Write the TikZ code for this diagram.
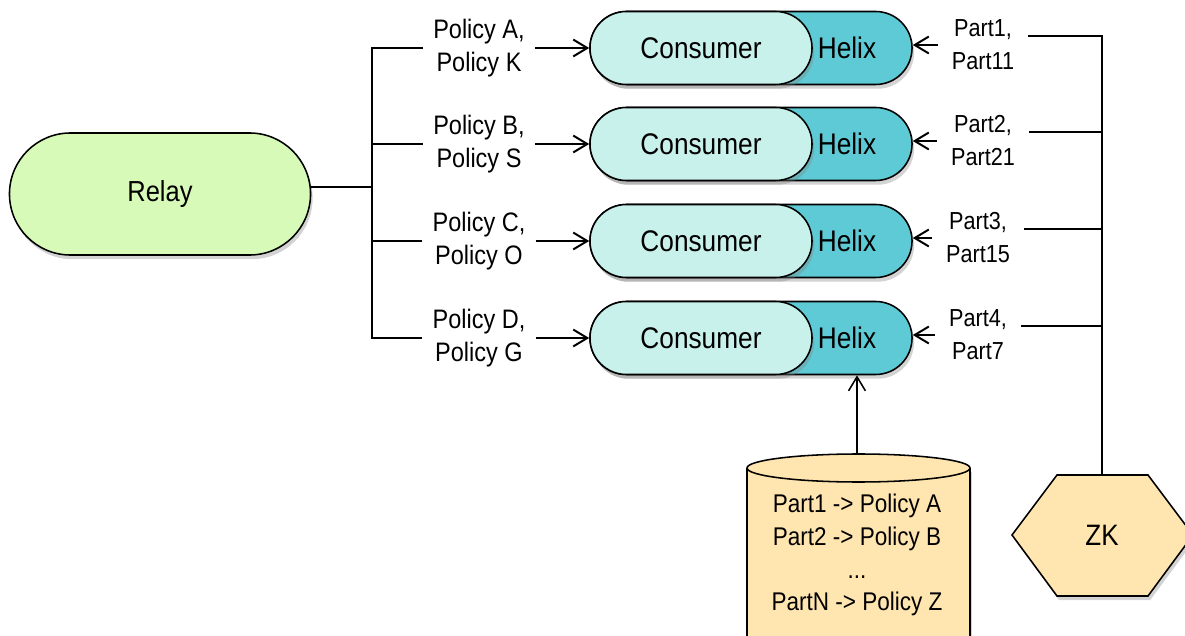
\documentclass[tikz,border=0pt]{standalone}
\usepackage{fontspec}
\setmainfont[FakeStretch=0.88]{Liberation Sans}
\usetikzlibrary{shapes.misc,shadows,arrows.meta,calc}
\definecolor{relayc}{HTML}{D8FAB8}
\definecolor{consc}{HTML}{C9F1EC}
\definecolor{helixc}{HTML}{5ECAD6}
\definecolor{dbc}{HTML}{FFE5B0}
\begin{document}
\begin{tikzpicture}[x=0.025cm,y=-0.025cm,
 shad/.style={drop shadow={shadow xshift=1.5pt,shadow yshift=-3pt,opacity=0.35}},
 pill/.style={rounded rectangle, draw, line width=1.1pt, minimum height=1.825cm, inner sep=0pt, shad},
 lbl/.style={align=center, font=\fontsize{19}{24}\selectfont, inner xsep=7pt, inner ysep=0pt},
 plbl/.style={align=center, font=\fontsize{17.5}{23.5}\selectfont, inner xsep=10pt, inner ysep=0pt},
 big/.style={font=\fontsize{21.2}{24}\selectfont},
 wire/.style={line width=1.4pt},
 arr/.style={line width=1.4pt, -{Straight Barb[length=10pt,width=12pt]}},
]
\clip (0,0) rectangle (1185,636);

% Relay
\node[pill, fill=relayc, minimum width=7.525cm, minimum height=3.05cm, font=\fontsize{20.6}{24}\selectfont] (relay) at (160,194) {Relay};
\coordinate (bus) at (372,187);

% ZK hexagon
\filldraw[fill=dbc, line width=1.1pt, shad] (1012,535) -- (1057,475) -- (1148,475) -- (1193,535) -- (1148,596) -- (1057,596) -- cycle;
\node[font=\fontsize{21}{24}\selectfont] (zk) at (1102,535) {ZK};
\coordinate (zktop) at (1102,475);

% Database cylinder
\path[fill=dbc, draw, line width=1.1pt, shad] (747,468) -- (747,660) -- (970,660) -- (970,468);
\filldraw[fill=dbc, line width=1.1pt] (858.5,468) ellipse [x radius=111.5, y radius=14];
\coordinate (dbtop) at (857,454);
\node[font=\fontsize{18.2}{23.3}\selectfont, align=center] (db) at (857,555) {Part1 -> Policy A\\Part2 -> Policy B\\...\\PartN -> Policy Z};

% Rows
\foreach \i/\y/\pa/\pb/\qa/\qb/\qx in {
  1/48/{Policy A,}/{Policy K}/{Part1,}/{Part11}/983,
  2/144/{Policy B,}/{Policy S}/{Part2,}/{Part21}/983,
  3/241/{Policy C,}/{Policy O}/{Part3,}/{Part15}/978,
  4/338/{Policy D,}/{Policy G}/{Part4,}/{Part7}/978}
{
  \node[pill, fill=helixc, minimum width=8.05cm] (h\i) at (751,\y) {};
  \node[pill, fill=consc, minimum width=5.55cm, big] (c\i) at (701,\y) {Consumer};
  \node[big] (ht\i) at (847,\y) {Helix};
  \node[lbl] (pol\i) at (479,\y) {\pa\\\pb};
  \node[plbl] (part\i) at (\qx,\y-3) {\qa\\\qb};
  \draw[arr] (pol\i.east) -- (c\i.west);
  \draw[arr] (part\i.west) -- (part\i.west -| h\i.east);
}

% Left bracket
\draw[wire] (relay.east |- bus) -- (bus);
\draw[wire] (pol1.west) -- (bus |- pol1.west) -- (bus |- pol4.west) -- (pol4.west);
\draw[wire] (bus |- pol2.west) -- (pol2.west);
\draw[wire] (bus |- pol3.west) -- (pol3.west);

% Right bracket
\draw[wire] ([yshift=6.4pt]part1.east) -- ([yshift=6.4pt]part1.east -| zktop) -- (zktop);
\draw[wire] ([yshift=6.4pt]part2.east) -- ([yshift=6.4pt]part2.east -| zktop);
\draw[wire] ([yshift=6.4pt]part3.east) -- ([yshift=6.4pt]part3.east -| zktop);
\draw[wire] ([yshift=6.4pt]part4.east) -- ([yshift=6.4pt]part4.east -| zktop);

% Database to Helix
\draw[arr, line width=1.1pt] (dbtop) -- (dbtop |- h4.south);
\end{tikzpicture}
\end{document}
